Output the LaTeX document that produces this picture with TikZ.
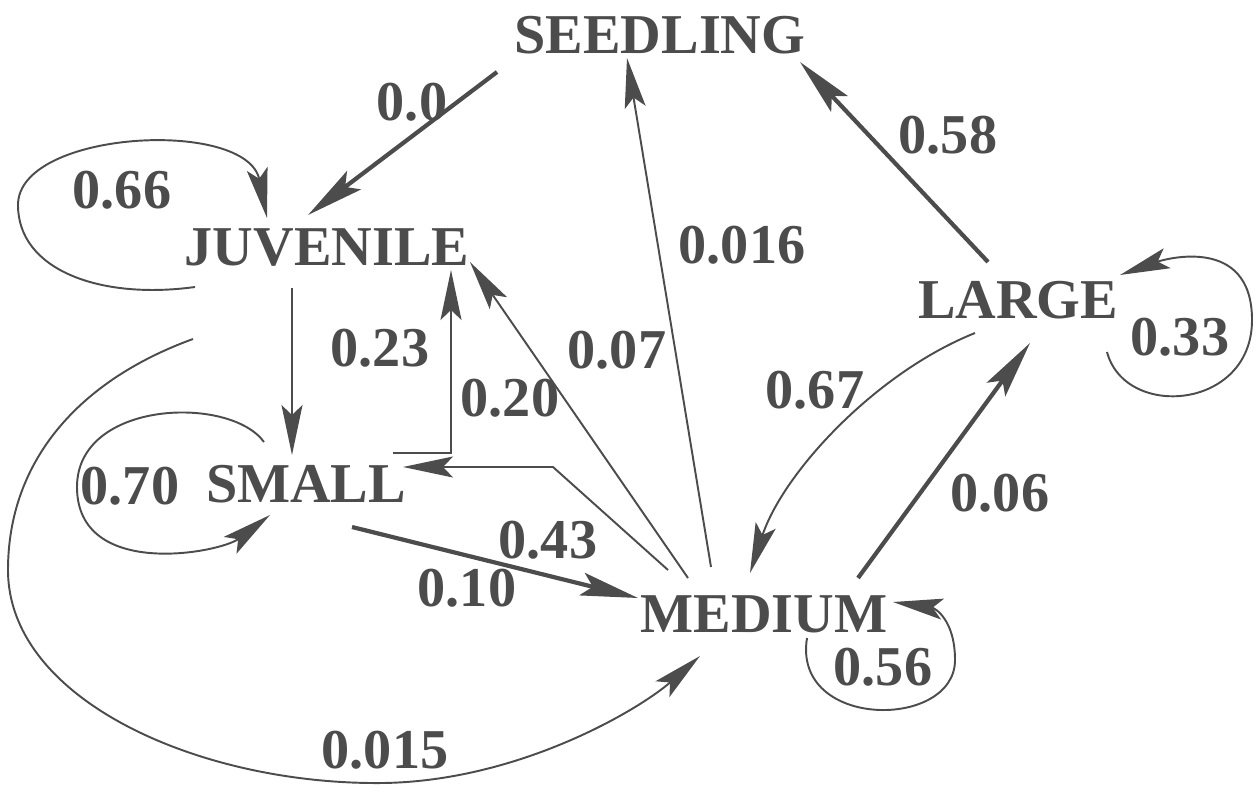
\documentclass[tikz,border=0pt]{standalone}
\usepackage{fontspec}
\setmainfont{Liberation Serif}
\usepackage{tikz}
\usetikzlibrary{arrows.meta}
\definecolor{ink}{gray}{0.3}
\tikzset{
    >={Stealth[length=10mm,width=4.2mm,inset=2mm]},
    stage/.style={
        font=\fontsize{32}{36}\selectfont\bfseries,
        text=ink,
        inner sep=0pt
    },
    rate/.style={
        font=\fontsize{32}{36}\selectfont\bfseries,
        text=ink,
        inner sep=0pt
    },
    edge/.style={draw=ink, line width=1.1pt, ->},
    heavy edge/.style={draw=ink, line width=2.4pt,
        -{Stealth[length=11.5mm,width=4.6mm,inset=2.2mm]}}
}

\begin{document}
\begin{tikzpicture}[x=0.2mm,y=-0.2mm]
    \useasboundingbox (0,0) rectangle (1259,792);

    % stages
    \node[stage] (seed)  at (660,35)  {SEEDLING};
    \node[stage] (juv)   at (327,248) {JUVENILE};
    \node[stage] (small) at (306,484) {SMALL};
    \node[stage] (med)   at (764,614) {MEDIUM};
    \node[stage] (large) at (1018,300) {LARGE};

    % transitions
    \draw[heavy edge] ([shift={(-163,37)}]seed.center) -- ([shift={(-19,-33)}]juv.center);
    \draw[edge] ([shift={(-35,40)}]juv.center) -- ([shift={(-14,-29)}]small.center);
    \draw[edge] ([shift={(87,-31)}]small.center) -| ([shift={(124,22)}]juv.center);
    \draw[edge] ([shift={(-96,-44)}]med.center) -- ++(-115,-103) -- ([shift={(97,-17)}]small.center);
    \draw[heavy edge] ([shift={(46,43)}]small.center) -- ([shift={(-126,-16)}]med.center);
    \draw[edge] ([shift={(-76,-36)}]med.center) -- ([shift={(143,14)}]juv.center);
    \draw[edge] ([shift={(-53,-47)}]med.center) -- ([shift={(-33,23)}]seed.center);
    \draw[heavy edge] ([shift={(-30,-38)}]large.center) -- ([shift={(140,27)}]seed.center);
    \draw[edge] ([shift={(-43,33)}]large.center) .. controls +(-100,40) and +(33,-100) .. ([shift={(-14,-41)}]med.center);
    \draw[heavy edge] ([shift={(94,-36)}]med.center) -- ([shift={(12,43)}]large.center);

    % stay in stage
    \draw[edge] ([shift={(-132,39)}]juv.center) .. controls +(-95,13) and +(0,65) .. ++(-177,-82)
        .. controls +(0,-75) and +(-20,-100) .. ([shift={(-60,-30)}]juv.center);
    \draw[edge] ([shift={(-42,-42)}]small.center) .. controls +(-34,-47) and +(0,-87) .. ++(-187,45)
        .. controls +(0,93) and +(-50,38) .. ([shift={(-36,31)}]small.center);
    \draw[edge] ([shift={(43,24)}]med.center) .. controls +(-15,92) and +(0,70) .. ++(148,22)
        .. controls +(0,-40) and +(42,6) .. ([shift={(129,-12)}]med.center);
    \draw[edge] ([shift={(89,52)}]large.center) .. controls +(18,68) and +(0,90) .. ++(145,-32)
        .. controls +(0,-85) and +(45,-16) .. ([shift={(102,-25)}]large.center);

    % juvenile to medium, round the left side
    \draw[edge] ([shift={(-134,91)}]juv.center) .. controls +(-113,41) and +(0,-110) .. ++(-185,231)
        .. controls +(0,130) and +(-183,2) .. ++(375,213)
        .. controls +(137,-2) and +(-60,53) .. ([shift={(-64,42)}]med.center);

    % rates
    \node[rate] (r seed juv)   at (412,102) {0.0};
    \node[rate] (r juv juv)    at (122,190) {0.66};
    \node[rate] (r juv small)  at (380,348) {0.23};
    \node[rate] (r small juv)  at (510,398) {0.20};
    \node[rate] (r med juv)    at (617,350) {0.07};
    \node[rate] (r med seed)   at (742,245) {0.016};
    \node[rate] (r large seed) at (948,135) {0.58};
    \node[rate] (r large large) at (1180,337) {0.33};
    \node[rate] (r large med)  at (815,390) {0.67};
    \node[rate] (r med large)  at (1000,493) {0.06};
    \node[rate] (r small small) at (130,486) {0.70};
    \node[rate] (r med small)  at (548,540) {0.43};
    \node[rate] (r small med)  at (467,588) {0.10};
    \node[rate] (r juv med)    at (385,750) {0.015};
    \node[rate] (r med med)    at (883,667) {0.56};
\end{tikzpicture}
\end{document}
